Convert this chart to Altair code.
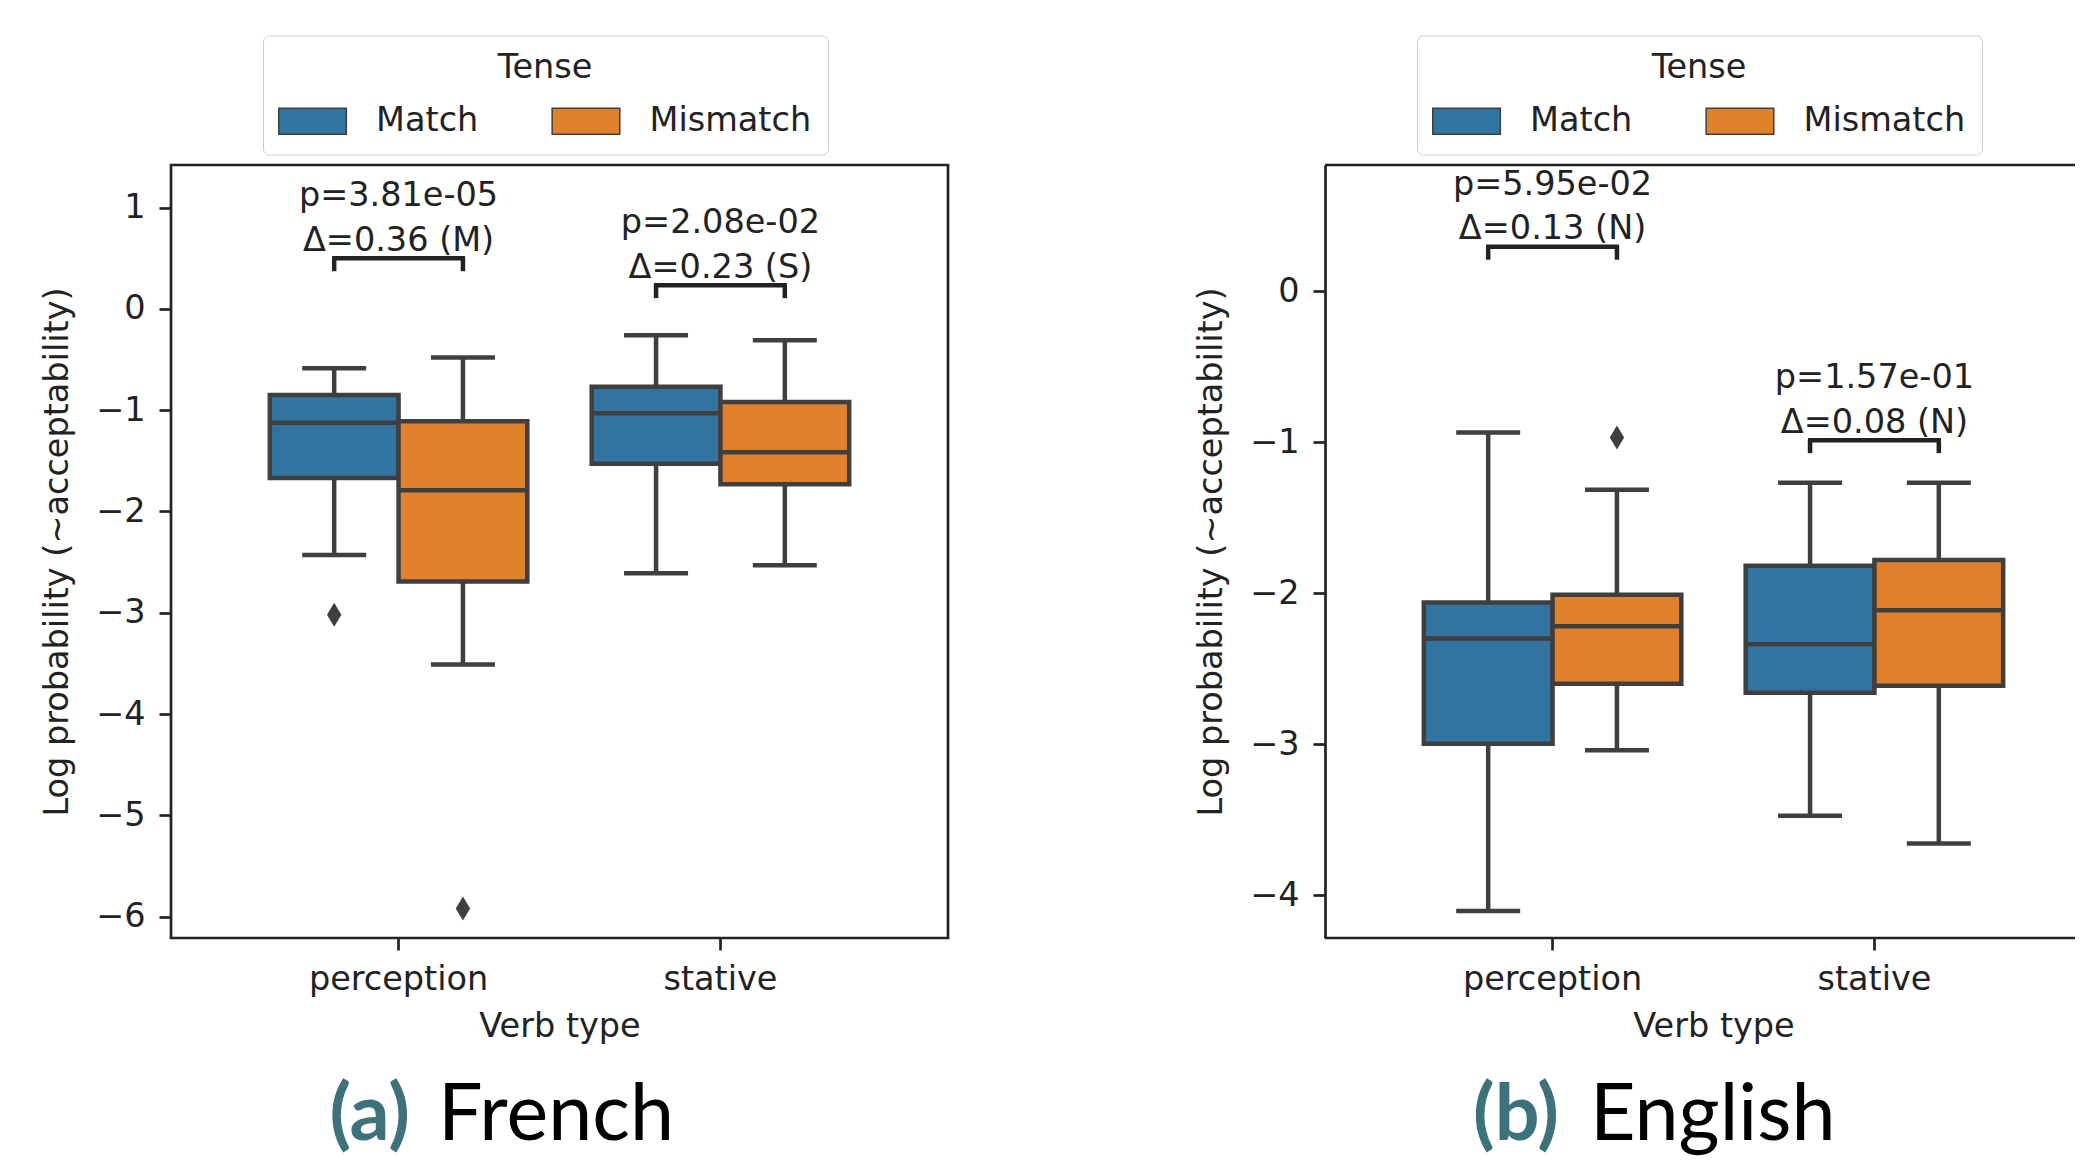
import altair as alt
import pandas as pd

# ---------------- data ----------------
categories = ["perception", "stative"]
tenses = ["Match", "Mismatch"]
box_verb = ["perception", "perception", "stative", "stative"]
box_tense = ["Match", "Mismatch", "Match", "Mismatch"]

# French
fr_whislo = [-2.43, -3.51, -2.61, -2.53]
fr_q1 = [-1.67, -2.69, -1.53, -1.73]
fr_med = [-1.125, -1.79, -1.03, -1.415]
fr_q3 = [-0.85, -1.11, -0.77, -0.92]
fr_whishi = [-0.585, -0.48, -0.26, -0.31]
fr_out_verb = ["perception", "perception"]
fr_out_tense = ["Match", "Mismatch"]
fr_out_val = [-3.02, -5.92]
fr_pvals = ["p=3.81e-05", "p=2.08e-02"]
fr_effects = ["Δ=0.36 (M)", "Δ=0.23 (S)"]
fr_bracket = [0.50, 0.234]
fr_domain = [-6.21, 1.42]
fr_ticks = [-6, -5, -4, -3, -2, -1, 0, 1]

# English
en_whislo = [-4.105, -3.041, -3.475, -3.659]
en_q1 = [-2.997, -2.60, -2.66, -2.613]
en_med = [-2.30, -2.219, -2.339, -2.114]
en_q3 = [-2.063, -2.011, -1.819, -1.78]
en_whishi = [-0.936, -1.316, -1.27, -1.27]
en_out_verb = ["perception"]
en_out_tense = ["Mismatch"]
en_out_val = [-0.969]
en_pvals = ["p=5.95e-02", "p=1.57e-01"]
en_effects = ["Δ=0.13 (N)", "Δ=0.08 (N)"]
en_bracket = [0.294, -0.987]
en_domain = [-4.284, 0.835]
en_ticks = [-4, -3, -2, -1, 0]

colors = ["#3274a1", "#e1812c"]
GRAY = "#3f3f3f"
INK = "#222222"
FONT = "DejaVu Sans"
CAP_FONT = "Lato"
FS = 33.5
LW = 4.5
PLOT_W = 777
PLOT_H = 773
CAP_Y = 975
CAP_FS = 79
STEP = PLOT_W / (2 - 0.2 + 2 * 0.307)        # category step of a full-width panel
FIRST_CENTER = 0.307 * STEP + 0.4 * STEP     # pixel centre of the first category

DIAMOND = "M0,-1L0.6,0L0,1L-0.6,0Z"
SWATCH = "M-1.3077,-1H3.8923V1H-1.3077Z"


def panel(whislo, q1, med, q3, whishi, out_verb, out_tense, out_val,
          pvals, effects, bracket, domain, ticks, letter, word,
          letter_x, word_x, view_w, framed):
    stats = pd.DataFrame({"verb": box_verb, "tense": box_tense, "whislo": whislo,
                          "q1": q1, "med": med, "q3": q3, "whishi": whishi})
    outl = pd.DataFrame({"verb": out_verb, "tense": out_tense, "val": out_val})
    ann = pd.DataFrame({"verb": categories,
                        "label": [p + "\n" + e for p, e in zip(pvals, effects)],
                        "bracket": bracket})
    legs = pd.DataFrame({"verb": [c for c in categories for _ in tenses],
                         "tense": [t for _ in categories for t in tenses],
                         "bracket": [b for b in bracket for _ in tenses]})
    cap = pd.DataFrame({"letter": [letter], "word": [word]})

    # keep the same band step even when the panel is cut at the page edge
    p_out = (view_w / STEP - 1.8) / 2
    p_align = (FIRST_CENTER - 0.4 * STEP) / (view_w - 1.8 * STEP)
    xscale = alt.Scale(domain=categories, paddingInner=0.2, paddingOuter=p_out,
                       align=p_align)
    xoff = alt.XOffset("tense:N", scale=alt.Scale(domain=tenses, paddingInner=0, paddingOuter=0))
    yscale = alt.Scale(domain=domain, nice=False, zero=False)

    x_main = alt.X("verb:N", scale=xscale, title="Verb type",
                   axis=alt.Axis(labelAngle=0, tickSize=12, tickWidth=2.7, tickColor=INK,
                                 labelFontSize=FS, titleFontSize=FS, labelColor=INK,
                                 titleColor=INK, titleFontWeight="normal", labelPadding=13,
                                 titlePadding=15, domain=False, grid=False, labelFont=FONT,
                                 titleFont=FONT,
                                 titleX=FIRST_CENTER + 0.5 * STEP))
    y_main = alt.Y("whislo:Q", scale=yscale, title="Log probability (~acceptability)",
                   axis=alt.Axis(values=ticks, format="d", tickSize=12, tickWidth=2.7,
                                 tickColor=INK, labelFontSize=FS, titleFontSize=FS,
                                 labelColor=INK, titleColor=INK, titleFontWeight="normal",
                                 labelPadding=14, titlePadding=21.5, grid=False,
                                 labelFont=FONT, titleFont=FONT,
                                 domain=not framed, domainColor=INK, domainWidth=2.7))
    xs = alt.X("verb:N", scale=xscale)

    whiskers = alt.Chart(stats).mark_rule(color=GRAY, strokeWidth=LW).encode(
        x=x_main, xOffset=xoff, y=y_main, y2="whishi:Q")
    cap_lo = alt.Chart(stats).mark_tick(color=GRAY, thickness=LW, size=64, opacity=1).encode(
        x=xs, xOffset=xoff, y="whislo:Q")
    cap_hi = alt.Chart(stats).mark_tick(color=GRAY, thickness=LW, size=64, opacity=1).encode(
        x=xs, xOffset=xoff, y="whishi:Q")
    boxes = alt.Chart(stats).mark_bar(stroke=GRAY, strokeWidth=LW, opacity=1).encode(
        x=xs, xOffset=xoff, y="q1:Q", y2="q3:Q",
        color=alt.Color("tense:N", scale=alt.Scale(domain=tenses, range=colors),
                        legend=alt.Legend(
                            title="Tense", orient="none", legendX=92, legendY=-129.5,
                            direction="horizontal", columns=2, titleAnchor="middle",
                            titleFontSize=FS, titleFontWeight="normal", titleFont=FONT,
                            titleColor=INK, labelFontSize=FS, labelFont=FONT,
                            labelColor=INK, labelLimit=0, symbolType=SWATCH,
                            symbolSize=676, symbolStrokeColor=GRAY, symbolStrokeWidth=1.5,
                            labelOffset=63.6, columnPadding=69.4, padding=16,
                            titlePadding=19, strokeColor="#cccccc", fillColor="white",
                            cornerRadius=6, symbolOpacity=1)))
    medians = alt.Chart(stats).mark_tick(color=GRAY, thickness=LW, size=128, opacity=1).encode(
        x=xs, xOffset=xoff, y="med:Q")
    fliers = alt.Chart(outl).mark_point(shape=DIAMOND, filled=True, color=GRAY, size=576,
                                        opacity=1).encode(
        x=xs, xOffset=xoff, y="val:Q")
    br_h = alt.Chart(ann).mark_tick(color=INK, thickness=LW, size=133, opacity=1).encode(
        x=xs, y="bracket:Q")
    br_v = alt.Chart(legs).mark_tick(color=INK, thickness=LW, size=13, orient="vertical",
                                     opacity=1).encode(
        x=xs, xOffset=xoff, y="bracket:Q", yOffset=alt.value(6.5))
    texts = alt.Chart(ann).mark_text(font=FONT, fontSize=FS, lineHeight=44.4, lineBreak="\n",
                                     baseline="alphabetic", align="center", dy=-52,
                                     color=INK).encode(
        x=xs, y="bracket:Q", text="label:N")
    cap_letter = alt.Chart(cap).mark_text(font=CAP_FONT, fontSize=CAP_FS, fontWeight="bold",
                                          color="#3e727b", align="right",
                                          baseline="alphabetic").encode(
        x=alt.value(letter_x), y=alt.value(CAP_Y), text="letter:N")
    cap_word = alt.Chart(cap).mark_text(font=CAP_FONT, fontSize=CAP_FS, color="#000000",
                                        align="left", baseline="alphabetic").encode(
        x=alt.value(word_x), y=alt.value(CAP_Y), text="word:N")

    layers = [whiskers, cap_lo, cap_hi, boxes, medians, fliers, br_h, br_v, texts,
              cap_letter, cap_word]
    if not framed:
        top_line = alt.Chart(cap).mark_rule(color=INK, strokeWidth=2.7).encode(
            x=alt.value(0), x2=alt.value(view_w), y=alt.value(0))
        bottom_line = alt.Chart(cap).mark_rule(color=INK, strokeWidth=2.7).encode(
            x=alt.value(0), x2=alt.value(view_w), y=alt.value(PLOT_H))
        layers += [top_line, bottom_line]
    ch = alt.layer(*layers).properties(width=view_w, height=PLOT_H)
    if not framed:
        ch = ch.properties(view=alt.ViewBackground(stroke="transparent"))
    return ch


left = panel(fr_whislo, fr_q1, fr_med, fr_q3, fr_whishi, fr_out_verb, fr_out_tense,
             fr_out_val, fr_pvals, fr_effects, fr_bracket, fr_domain, fr_ticks,
             "(a)", "French", 239, 267, PLOT_W, True)
right = panel(en_whislo, en_q1, en_med, en_q3, en_whishi, en_out_verb, en_out_tense,
              en_out_val, en_pvals, en_effects, en_bracket, en_domain, en_ticks,
              "(b)", "English", 234, 265, 750, False)

chart = alt.hconcat(left, right, spacing=242).resolve_scale(
    color="independent", x="independent", y="independent"
).resolve_legend(color="independent").properties(
    padding={"left": 30, "top": 25, "right": 0, "bottom": 0}
).configure_view(stroke=INK, strokeWidth=2.7)

chart.save("out.html", embed_options={"renderer": "svg", "actions": False})
